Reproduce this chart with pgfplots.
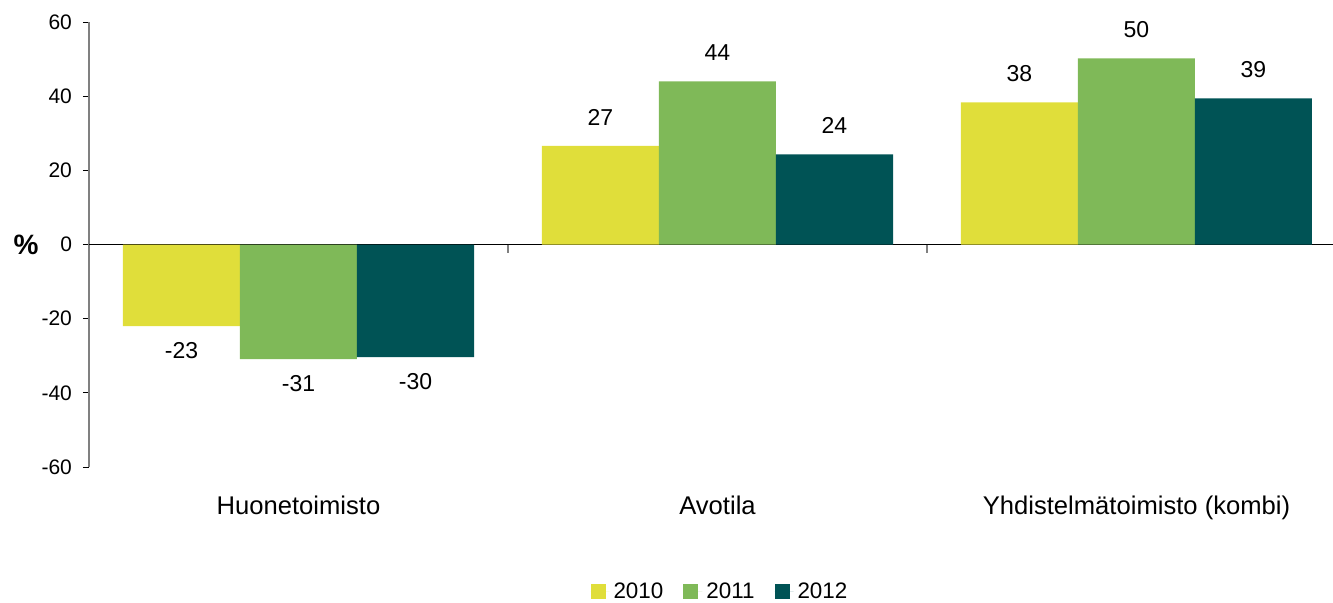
\documentclass[border=0pt]{standalone}
\usepackage{pgfplots}
\pgfplotsset{compat=1.18}
\usepackage{fontspec}
\setmainfont{Liberation Sans}
\definecolor{c2010}{HTML}{E0DE3A}
\definecolor{c2011}{HTML}{7FB958}
\definecolor{c2012}{HTML}{005355}
\definecolor{axgray}{HTML}{808080}
\begin{document}
\begin{tikzpicture}[font=\fontsize{10.5}{12.6}\selectfont]
\begin{axis}[
  name=ax, clip=false,
  width=622pt, height=222.5pt, scale only axis,
  xmin=-0.5, xmax=2.469, ymin=-60, ymax=60,
  ybar=0pt, bar width=58.5pt,
  axis y line*=left, axis x line*=bottom,
  x axis line style={draw=none},
  y axis line style={draw=axgray, line width=0.8pt},
  ytick={-60,-40,...,60},
  ytick style={black, thin},
  tick align=outside, major tick length=3pt,
  xtick={0,1,2},
  xticklabels={Huonetoimisto,Avotila,Yhdistelmätoimisto (kombi)},
  xtick style={draw=none},
  xticklabel style={yshift=-8pt, font=\fontsize{12.8}{15}\selectfont},
  yticklabel style={xshift=-2pt},
  /pgf/number format/assume math mode=true,
  extra y ticks={0}, extra y tick labels={},
  extra y tick style={grid=major, major grid style={black, line width=0.7pt}, tick style={draw=none}},
  nodes near coords, point meta=explicit,
  every node near coord/.append style={inner ysep=9pt, yshift=1pt, black, font=\fontsize{11.5}{13.8}\selectfont},
  legend style={at={(0.508,0)}, anchor=center, yshift=-62.5pt, legend columns=-1,
    draw=none, fill=none, font=\fontsize{11.2}{13.4}\selectfont,
    /tikz/every even column/.append style={column sep=8pt}},
  legend image code/.code={\path[#1,draw=none] (0pt,-3.75pt) rectangle (7.5pt,3.75pt); \path (0pt,0pt) -- (9.5pt,0pt);},
]
\addplot[fill=c2010, draw=none] coordinates {(0,-22.0) [-23] (1,26.6) [27] (2,38.3) [38]};
\addplot[fill=c2011, draw=none] coordinates {(0,-30.9) [-31] (1,44.0) [44] (2,50.2) [50]};
\addplot[fill=c2012, draw=none] coordinates {(0,-30.4) [-30] (1,24.3) [24] (2,39.4) [39]};
\legend{2010,2011,2012}
\draw[axgray, line width=0.8pt] (axis cs:0.5,0) -- ([yshift=-4pt]axis cs:0.5,0);
\draw[axgray, line width=0.8pt] (axis cs:1.5,0) -- ([yshift=-4pt]axis cs:1.5,0);
\node[font=\bfseries\fontsize{14}{16}\selectfont] at ([xshift=-31.5pt]rel axis cs:0,0.5) {\%};
\end{axis}
\pgfresetboundingbox
\path[use as bounding box] ([xshift=-44.5pt, yshift=-68pt]ax.south west) rectangle ([yshift=11pt]ax.north east);
\end{tikzpicture}
\end{document}
